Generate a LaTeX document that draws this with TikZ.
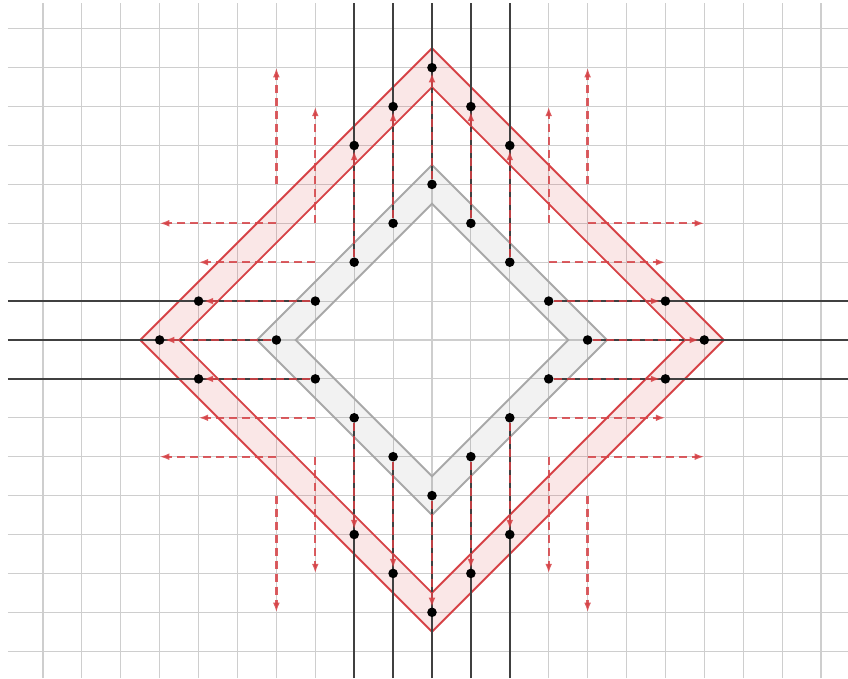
\documentclass[tikz,border=0pt]{standalone}
\usetikzlibrary{arrows.meta,backgrounds}
\definecolor{bandred}{RGB}{214,66,70}
\definecolor{bandgray}{RGB}{168,168,168}
\definecolor{rayline}{RGB}{64,64,64}
\definecolor{gridgray}{RGB}{206,206,206}
\begin{document}
\begin{tikzpicture}[scale=1,
    gridline/.style={gridgray, line width=0.8pt},
    ray/.style={rayline, line width=1.8pt},
    redband/.style={draw=bandred, line width=1.4pt, fill=bandred, fill opacity=0.13, even odd rule},
    grayband/.style={draw=bandgray, line width=1.4pt, fill=black, fill opacity=0.05, even odd rule},
    bandshift/.style={bandred, opacity=0.85, line width=1.7pt, dash pattern=on 6pt off 3.5pt, -{Latex[length=7pt,width=5pt]}},
    dot/.style={circle, fill=black, inner sep=0pt, minimum size=7pt}]
    \useasboundingbox (-11.105,-8.689) rectangle (10.694,8.740);

    % Dots on the inner band
    \node[dot] (it1) at (-2,2) {};
    \node[dot] (it2) at (-1,3) {};
    \node[dot] (it3) at (0,4) {};
    \node[dot] (it4) at (1,3) {};
    \node[dot] (it5) at (2,2) {};
    \node[dot] (ib1) at (-2,-2) {};
    \node[dot] (ib2) at (-1,-3) {};
    \node[dot] (ib3) at (0,-4) {};
    \node[dot] (ib4) at (1,-3) {};
    \node[dot] (ib5) at (2,-2) {};
    \node[dot] (il1) at (-3,1) {};
    \node[dot] (il2) at (-4,0) {};
    \node[dot] (il3) at (-3,-1) {};
    \node[dot] (ir1) at (3,1) {};
    \node[dot] (ir2) at (4,0) {};
    \node[dot] (ir3) at (3,-1) {};

    % Dots on the outer band
    \node[dot] (ot1) at (-2,5) {};
    \node[dot] (ot2) at (-1,6) {};
    \node[dot] (ot3) at (0,7) {};
    \node[dot] (ot4) at (1,6) {};
    \node[dot] (ot5) at (2,5) {};
    \node[dot] (ob1) at (-2,-5) {};
    \node[dot] (ob2) at (-1,-6) {};
    \node[dot] (ob3) at (0,-7) {};
    \node[dot] (ob4) at (1,-6) {};
    \node[dot] (ob5) at (2,-5) {};
    \node[dot] (ol1) at (-6,1) {};
    \node[dot] (ol2) at (-7,0) {};
    \node[dot] (ol3) at (-6,-1) {};
    \node[dot] (or1) at (6,1) {};
    \node[dot] (or2) at (7,0) {};
    \node[dot] (or3) at (6,-1) {};

    % Ends of the rays at the border
    \coordinate (et1) at (-2,8.66);
    \coordinate (et2) at (-1,8.66);
    \coordinate (et3) at (0,8.66);
    \coordinate (et4) at (1,8.66);
    \coordinate (et5) at (2,8.66);
    \coordinate (eb1) at (-2,-8.69);
    \coordinate (eb2) at (-1,-8.69);
    \coordinate (eb3) at (0,-8.69);
    \coordinate (eb4) at (1,-8.69);
    \coordinate (eb5) at (2,-8.69);
    \coordinate (el1) at (-10.9,1);
    \coordinate (el2) at (-10.9,0);
    \coordinate (el3) at (-10.9,-1);
    \coordinate (er1) at (10.69,1);
    \coordinate (er2) at (10.69,0);
    \coordinate (er3) at (10.69,-1);

    % Ends of the free shifts
    \coordinate (p1) at (-4,4);   \coordinate (q1) at (-4,7);
    \coordinate (p2) at (-3,3);   \coordinate (q2) at (-3,6);
    \coordinate (p3) at (-4,3);   \coordinate (q3) at (-7,3);
    \coordinate (p4) at (-3,2);   \coordinate (q4) at (-6,2);
    \coordinate (p5) at (4,4);    \coordinate (q5) at (4,7);
    \coordinate (p6) at (3,3);    \coordinate (q6) at (3,6);
    \coordinate (p7) at (4,3);    \coordinate (q7) at (7,3);
    \coordinate (p8) at (3,2);    \coordinate (q8) at (6,2);
    \coordinate (p9) at (-4,-4);  \coordinate (q9) at (-4,-7);
    \coordinate (p10) at (-3,-3); \coordinate (q10) at (-3,-6);
    \coordinate (p11) at (-4,-3); \coordinate (q11) at (-7,-3);
    \coordinate (p12) at (-3,-2); \coordinate (q12) at (-6,-2);
    \coordinate (p13) at (4,-4);  \coordinate (q13) at (4,-7);
    \coordinate (p14) at (3,-3);  \coordinate (q14) at (3,-6);
    \coordinate (p15) at (4,-3);  \coordinate (q15) at (7,-3);
    \coordinate (p16) at (3,-2);  \coordinate (q16) at (6,-2);

    \begin{pgfonlayer}{background}
    % Grid
    \draw[gridline] (-10.9,-8.69) grid (10.69,8.66);

    % Bands
    \draw[grayband] (0,4.5) -- (4.5,0) -- (0,-4.5) -- (-4.5,0) -- cycle
        (0,3.5) -- (3.5,0) -- (0,-3.5) -- (-3.5,0) -- cycle;
    \draw[redband] (0,7.5) -- (7.5,0) -- (0,-7.5) -- (-7.5,0) -- cycle
        (0,6.5) -- (6.5,0) -- (0,-6.5) -- (-6.5,0) -- cycle;

    % Rays
    \draw[ray] (et1) -- (it1);
    \draw[ray] (et2) -- (it2);
    \draw[ray] (et3) -- (it3);
    \draw[ray] (et4) -- (it4);
    \draw[ray] (et5) -- (it5);
    \draw[ray] (eb1) -- (ib1);
    \draw[ray] (eb2) -- (ib2);
    \draw[ray] (eb3) -- (ib3);
    \draw[ray] (eb4) -- (ib4);
    \draw[ray] (eb5) -- (ib5);
    \draw[ray] (el1) -- (il1);
    \draw[ray] (el2) -- (il2);
    \draw[ray] (el3) -- (il3);
    \draw[ray] (er1) -- (ir1);
    \draw[ray] (er2) -- (ir2);
    \draw[ray] (er3) -- (ir3);

    % Shifts along the rays
    \draw[bandshift] (it1) -- (ot1);
    \draw[bandshift] (it2) -- (ot2);
    \draw[bandshift] (it3) -- (ot3);
    \draw[bandshift] (it4) -- (ot4);
    \draw[bandshift] (it5) -- (ot5);
    \draw[bandshift] (ib1) -- (ob1);
    \draw[bandshift] (ib2) -- (ob2);
    \draw[bandshift] (ib3) -- (ob3);
    \draw[bandshift] (ib4) -- (ob4);
    \draw[bandshift] (ib5) -- (ob5);
    \draw[bandshift] (il1) -- (ol1);
    \draw[bandshift] (il2) -- (ol2);
    \draw[bandshift] (il3) -- (ol3);
    \draw[bandshift] (ir1) -- (or1);
    \draw[bandshift] (ir2) -- (or2);
    \draw[bandshift] (ir3) -- (or3);

    % Free shifts
    \draw[bandshift] (p1) -- (q1);
    \draw[bandshift] (p2) -- (q2);
    \draw[bandshift] (p3) -- (q3);
    \draw[bandshift] (p4) -- (q4);
    \draw[bandshift] (p5) -- (q5);
    \draw[bandshift] (p6) -- (q6);
    \draw[bandshift] (p7) -- (q7);
    \draw[bandshift] (p8) -- (q8);
    \draw[bandshift] (p9) -- (q9);
    \draw[bandshift] (p10) -- (q10);
    \draw[bandshift] (p11) -- (q11);
    \draw[bandshift] (p12) -- (q12);
    \draw[bandshift] (p13) -- (q13);
    \draw[bandshift] (p14) -- (q14);
    \draw[bandshift] (p15) -- (q15);
    \draw[bandshift] (p16) -- (q16);
    \end{pgfonlayer}
\end{tikzpicture}
\end{document}
